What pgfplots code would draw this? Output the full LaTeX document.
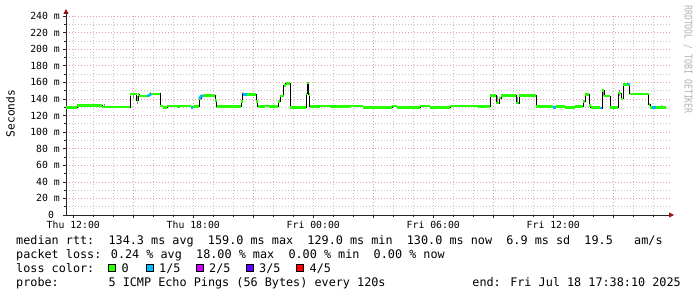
\documentclass[border=0pt]{standalone}
\usepackage{fontspec}
\usepackage{pgfplots}
\usepackage{pgfplotstable}
\pgfplotsset{compat=1.18}
\usetikzlibrary{arrows.meta}
\setmainfont{DejaVu Sans Mono}
\newfontfamily\dvm{DejaVu Sans Mono}
\newcommand\legfont{\dvm\fontsize{11.8}{14}\selectfont}
\newcommand\tickfont{\dvm\fontsize{9.8}{11}\selectfont}
\definecolor{lossA}{RGB}{38,255,0}
\definecolor{lossB}{RGB}{0,184,255}
\definecolor{lossC}{RGB}{204,0,255}
\definecolor{lossD}{RGB}{94,0,255}
\definecolor{lossE}{RGB}{255,0,0}
\definecolor{gridred}{RGB}{228,160,160}
\definecolor{gridgray}{RGB}{196,196,196}
\definecolor{arrowred}{RGB}{150,20,20}
\definecolor{smoke}{RGB}{140,140,140}

\pgfplotstableread{
h v
11.636 130
12.2 131.8
13.45 130.2
14.85 145.5
14.9 146
15.175 138
15.25 145
15.3 143.5
15.75 144
15.85 146
16.35 131.5
16.5 130
16.7 131.5
17.2 130.5
17.35 131.5
17.9 129.5
18.0 130.5
18.3 140
18.4 143.5
18.5 144
19.1 138
19.175 130.5
20.4 137
20.475 145
21.15 137
21.225 130.5
21.6 131.5
21.8 130.5
22.25 137
22.35 143.5
22.525 156.5
22.625 158.5
22.85 130
23.65 146
23.7 159
23.775 145
23.825 130.5
24.35 131.5
24.85 130.5
25.85 131.5
26.5 130
27.95 131.5
28.2 130
29.35 131.5
29.85 130
30.85 131.5
32.25 130.5
32.85 144
33.15 135
33.3 141
33.4 144
34.15 135
34.3 144
35.15 130.5
36.0 129.5
36.15 131
36.6 130
37.1 130.5
37.5 137
37.6 145.5
37.8 132
37.875 130
38.35 129
38.45 150
38.55 143.5
38.85 130
39.25 147
39.4 140
39.5 157.5
39.825 146
40.775 133
40.85 130
41.636 130
}\median

\begin{document}
\begin{tikzpicture}
\useasboundingbox (0,0) rectangle (697pt,297pt);
\begin{axis}[
  at={(66pt,82pt)}, anchor=south west, scale only axis,
  width=604pt, height=199pt,
  xmin=11.636, xmax=41.836, ymin=0, ymax=240,
  axis lines=left,
  axis line style={black!85, line width=0.8pt},
  x axis line style={-{Triangle[length=5pt,width=5pt,color=arrowred]}, shorten >=-4pt},
  y axis line style={-{Triangle[length=5pt,width=5pt,color=arrowred]}, shorten >=-7pt},
  xtick={12,18,24,30,36},
  xticklabels={Thu 12:00,Thu 18:00,Fri 00:00,Fri 06:00,Fri 12:00},
  minor xtick={13,14,16,17,19,20,22,23,25,26,28,29,31,32,34,35,37,38,40,41},
  extra x ticks={15,21,27,33,39},
  extra x tick labels={},
  extra x tick style={grid=major, major x grid style={gridred, dash pattern=on 1pt off 2pt, line width=0.6pt}},
  ytick={0,20,...,240},
  yticklabels={0~~,20 m,40 m,60 m,80 m,100 m,120 m,140 m,160 m,180 m,200 m,220 m,240 m},
  minor ytick={10,30,...,230},
  xmajorgrids, xminorgrids, ymajorgrids, yminorgrids,
  major x grid style={gridgray, dash pattern=on 1pt off 2pt, line width=0.6pt},
  minor x grid style={gridgray, dash pattern=on 1pt off 2pt, line width=0.6pt},
  major y grid style={gridred, dash pattern=on 1pt off 2pt, line width=0.6pt},
  minor y grid style={gridgray, dash pattern=on 1pt off 2pt, line width=0.6pt},
  tick align=outside,
  major tick length=3pt, minor tick length=2pt,
  tick style={black!85, line width=0.6pt},
  xticklabel style={font=\tickfont, anchor=north, inner sep=0pt, yshift=-3pt},
  yticklabel style={font=\tickfont, anchor=east, inner sep=0pt, xshift=-3pt},
  clip=false,
]
% smoke
\addplot[smoke, line width=1pt] coordinates {(13.55,131) (13.55,134)};
\addplot[smoke, line width=1pt] coordinates {(15.0,140) (15.0,145)};
\addplot[smoke, line width=1pt] coordinates {(15.2,134) (15.2,143)};
\addplot[smoke, line width=1pt] coordinates {(15.85,146) (15.85,148.5)};
\addplot[smoke, line width=1pt] coordinates {(18.55,144) (18.55,146.5)};
\addplot[smoke, line width=1pt] coordinates {(20.45,145) (20.45,148)};
\addplot[smoke, line width=1pt] coordinates {(33.2,134) (33.2,143)};
\addplot[smoke, line width=1pt] coordinates {(34.2,134) (34.2,142)};
\addplot[smoke, line width=1pt] coordinates {(38.5,143) (38.5,149)};
\addplot[smoke, line width=1pt] coordinates {(39.3,143) (39.3,151)};
\addplot[smoke, line width=1pt] coordinates {(41.4,130) (41.4,133)};
% median
\addplot[black, line width=0.9pt, const plot mark left] table[x=h,y=v] {\median};
\addplot[lossA, line width=2.6pt, jump mark left] table[x=h,y=v] {\median};
% 1/5 loss
\addplot[lossB, line width=2.6pt] coordinates {(15.7,143.5) (15.8,144.5) (15.9,146)};
\addplot[lossB, line width=2.6pt] coordinates {(17.9,129.5) (18.0,129.5)};
\addplot[lossB, line width=2.6pt] coordinates {(18.3,140) (18.4,143.5) (18.5,143.5)};
\addplot[lossB, line width=2.6pt] coordinates {(20.475,145) (20.7,145)};
\addplot[lossB, line width=2.6pt] coordinates {(36.0,129.5) (36.15,129.5)};
\addplot[lossB, line width=2.6pt] coordinates {(38.35,129) (38.45,129)};
\addplot[lossB, line width=2.6pt] coordinates {(39.7,158) (39.825,158)};
\addplot[lossB, line width=2.6pt] coordinates {(40.95,130) (41.15,130)};
\end{axis}
% axis title
\node[rotate=90, font=\dvm\fontsize{11.2}{13}\selectfont, inner sep=0pt] at (10.5pt,183.5pt) {Seconds};
% watermark
\node[rotate=-90, yscale=1.3, anchor=west, font=\dvm\fontsize{8.2}{9}\selectfont, text=black!30, inner sep=0pt] at (688pt,292pt) {RRDTOOL / TOBI OETIKER};
% legend lines
\node[anchor=base west, inner sep=0pt, font=\legfont] at (16pt,52pt) {median rtt:~~134.3 ms avg~~159.0 ms max~~129.0 ms min~~130.0 ms now~~6.9 ms sd~~19.5~~~am/s};
\node[anchor=base west, inner sep=0pt, font=\legfont] at (16pt,38pt) {packet loss: 0.24 \% avg~~18.00 \% max~~0.00 \% min~~0.00 \% now};
\node[anchor=base west, inner sep=0pt, font=\legfont] at (16pt,24.5pt) {loss color:};
\node[anchor=base west, inner sep=0pt, font=\legfont] at (16pt,10pt) {probe:~~~~~~~5 ICMP Echo Pings (56 Bytes) every 120s};
\node[anchor=base east, inner sep=0pt, font=\legfont] at (681pt,10pt) {end: Fri Jul 18 17:38:10 2025};
% loss colour boxes
\filldraw[fill=lossA, draw=black, line width=0.7pt] (108.5pt,26pt) rectangle (115.5pt,33pt);
\node[anchor=base west, inner sep=0pt, font=\legfont] at (121.5pt,24.5pt) {0};
\filldraw[fill=lossB, draw=black, line width=0.7pt] (146pt,26pt) rectangle (153pt,33pt);
\node[anchor=base west, inner sep=0pt, font=\legfont] at (159pt,24.5pt) {1/5};
\filldraw[fill=lossC, draw=black, line width=0.7pt] (196pt,26pt) rectangle (203pt,33pt);
\node[anchor=base west, inner sep=0pt, font=\legfont] at (209pt,24.5pt) {2/5};
\filldraw[fill=lossD, draw=black, line width=0.7pt] (246pt,26pt) rectangle (253pt,33pt);
\node[anchor=base west, inner sep=0pt, font=\legfont] at (259pt,24.5pt) {3/5};
\filldraw[fill=lossE, draw=black, line width=0.7pt] (296.5pt,26pt) rectangle (303.5pt,33pt);
\node[anchor=base west, inner sep=0pt, font=\legfont] at (309.5pt,24.5pt) {4/5};
\end{tikzpicture}
\end{document}
